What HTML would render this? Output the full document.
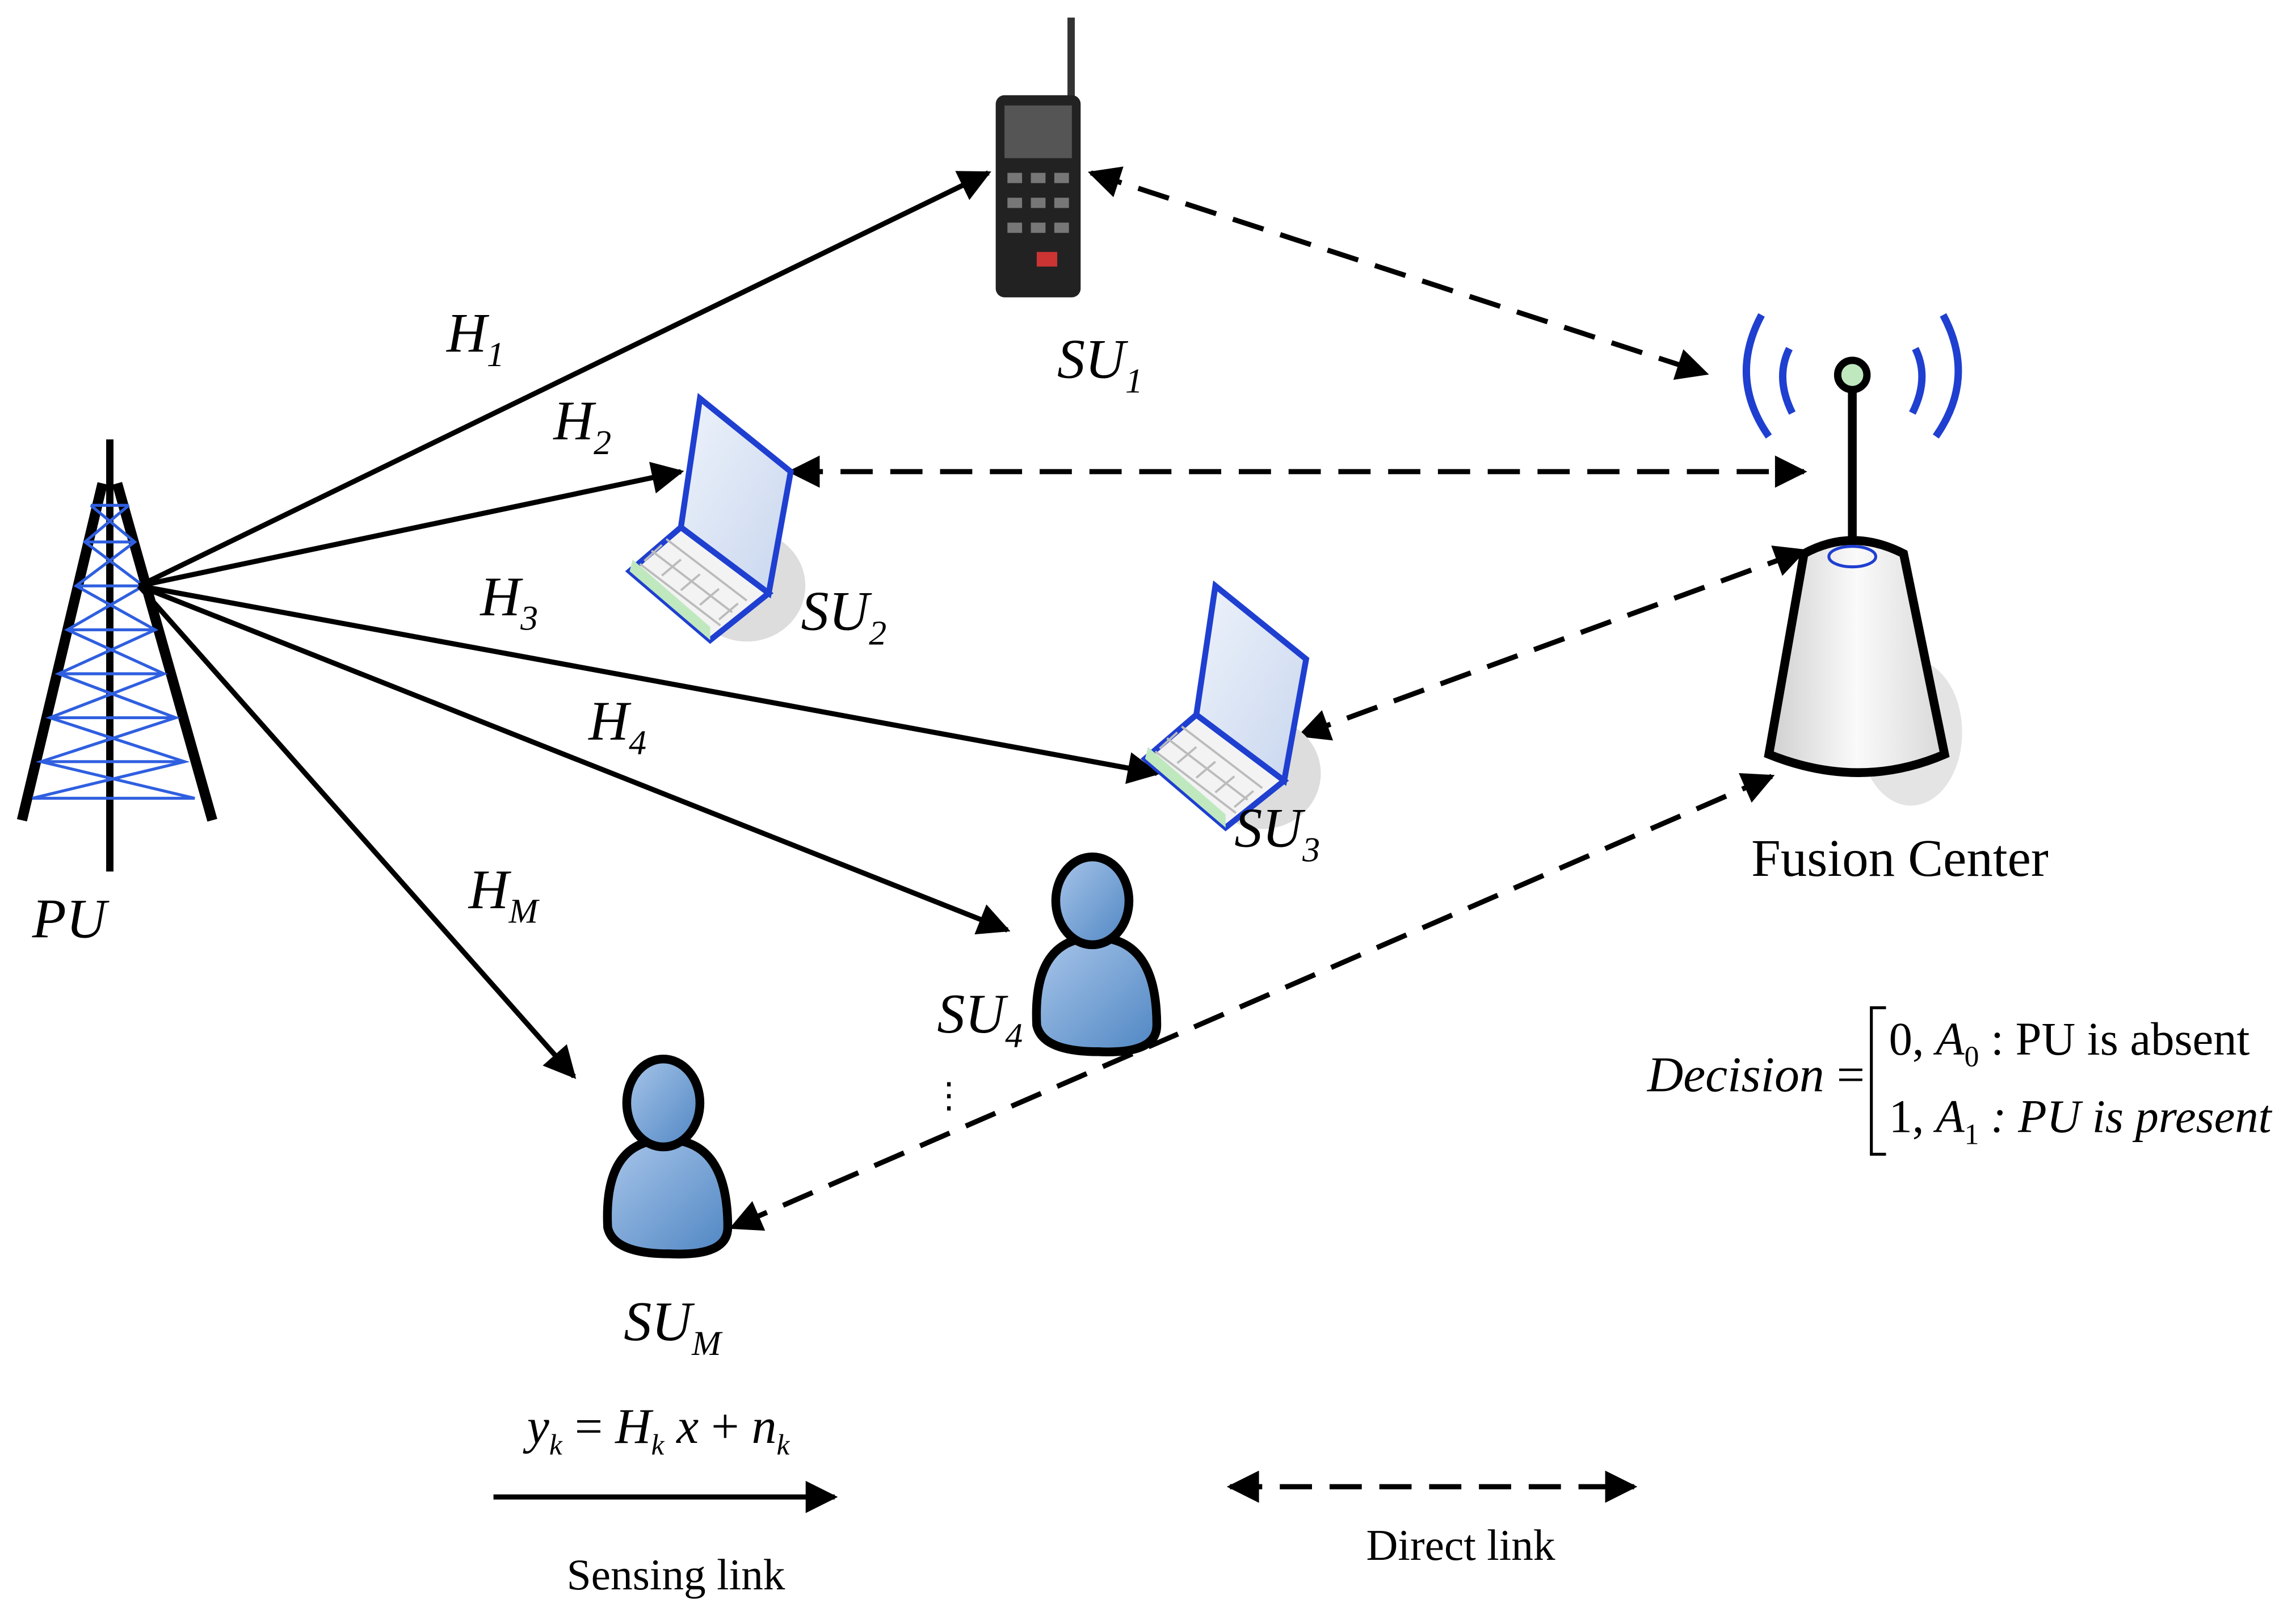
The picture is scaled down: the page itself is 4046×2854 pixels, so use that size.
<!DOCTYPE html>
<html><head><style>html,body{margin:0;padding:0;background:#fff}svg{display:block}</style></head><body>
<svg width="4046" height="2854" viewBox="0 0 1568 1106" preserveAspectRatio="none" xmlns="http://www.w3.org/2000/svg" font-family="Liberation Serif, serif">
<defs>
<linearGradient id="bl" x1="0" y1="0" x2="1" y2="1"><stop offset="0" stop-color="#a9c6ea"/><stop offset="1" stop-color="#4f86c3"/></linearGradient>
<linearGradient id="sc" x1="0" y1="0" x2="1" y2="1"><stop offset="0" stop-color="#eef3fb"/><stop offset="1" stop-color="#c8d6ee"/></linearGradient>
<linearGradient id="fc" x1="0" x2="1"><stop offset="0" stop-color="#cfcfcf"/><stop offset=".5" stop-color="#fafafa"/><stop offset="1" stop-color="#d8d8d8"/></linearGradient>
<marker id="m" viewBox="0 0 10 10" refX="9" refY="5" markerWidth="26" markerHeight="22" markerUnits="userSpaceOnUse" orient="auto-start-reverse"><path d="M0,0L10,5L0,10z"/></marker>
</defs>
<g stroke="#000" fill="none">
<line x1="75" y1="300" x2="75" y2="595" stroke-width="5"/>
<path d="M70,330 L15,560 M80,330 L145,560" stroke-width="7"/>
<g stroke="#2f5fe0" stroke-width="2">
<path d="M62,345 L88,345 M58,370 L92,370 M52,400 L98,400 M46,430 L106,430 M40,460 L112,460 M34,490 L120,490 M28,520 L126,520 M22,545 L133,545"/>
<path d="M62,345 L92,370 L52,400 L106,430 L40,460 L120,490 L28,520 L133,545 M88,345 L58,370 L98,400 L46,430 L112,460 L34,490 L126,520 L22,545"/>
</g>
</g>
<text x="22" y="640" font-size="38" font-style="italic">PU</text>
<g stroke="#000" stroke-width="3.5" marker-end="url(#m)">
<line x1="95" y1="400" x2="675" y2="118"/>
<line x1="95" y1="400" x2="465" y2="322"/>
<line x1="95" y1="400" x2="790" y2="528"/>
<line x1="95" y1="400" x2="688" y2="635"/>
<line x1="95" y1="400" x2="392" y2="735"/>
</g>
<g stroke="#000" stroke-width="3.5" stroke-dasharray="22,12" marker-end="url(#m)" marker-start="url(#m)">
<line x1="745" y1="118" x2="1165" y2="255"/>
<line x1="540" y1="322" x2="1232" y2="322"/>
<line x1="888" y1="502" x2="1232" y2="376"/>
<line x1="1210" y1="530" x2="500" y2="838"/>
</g>
<rect x="729" y="12" width="5" height="60" fill="#333"/>
<rect x="680" y="65" width="58" height="138" rx="6" fill="#222"/>
<rect x="686" y="72" width="46" height="36" fill="#555"/>
<g fill="#777"><rect x="688" y="118" width="10" height="7"/><rect x="704" y="118" width="10" height="7"/><rect x="720" y="118" width="10" height="7"/><rect x="688" y="135" width="10" height="7"/><rect x="704" y="135" width="10" height="7"/><rect x="720" y="135" width="10" height="7"/><rect x="688" y="152" width="10" height="7"/><rect x="704" y="152" width="10" height="7"/><rect x="720" y="152" width="10" height="7"/></g>
<rect x="708" y="172" width="14" height="10" fill="#c33"/>
<g id="lap">
<ellipse cx="510" cy="400" rx="40" ry="38" fill="#ddd"/>
<path d="M478,272 L540,322 L525,405 L465,360 z" fill="url(#sc)" stroke="#1f3fd0" stroke-width="4"/>
<path d="M465,360 L525,405 L485,437 L430,390 z" fill="#f3f3f3" stroke="#1f3fd0" stroke-width="4"/>
<g stroke="#bbb" stroke-width="1.5"><path d="M455,368 L510,410 M445,376 L500,418 M437,385 L492,427 M452,372 L440,383 M465,382 L452,393 M478,392 L465,403 M491,402 L478,413 M504,412 L491,423"/></g>
<path d="M430,390 L485,437 L485,428 L432,382" fill="#bfe8bf"/>
</g>
<use href="#lap" transform="translate(352,128)"/>
<g id="per" stroke="#000" stroke-width="6">
<path d="M708,700 Q705,640 748,640 Q790,640 790,700 Q790,720 750,718 Q712,718 708,700z" fill="url(#bl)"/>
<ellipse cx="746" cy="615" rx="25" ry="30" fill="url(#bl)"/>
</g>
<use href="#per" transform="translate(-293,138)"/>
<ellipse cx="1305" cy="500" rx="35" ry="50" fill="#e4e4e4"/>
<line x1="1265" y1="258" x2="1265" y2="372" stroke="#000" stroke-width="6"/>
<path d="M1232,378 Q1265,360 1300,378 L1328,515 Q1270,540 1208,515 z" fill="url(#fc)" stroke="#000" stroke-width="6"/>
<ellipse cx="1265" cy="380" rx="16" ry="7" fill="none" stroke="#1f3fd0" stroke-width="2"/>
<circle cx="1265" cy="256" r="10" fill="#bfe8bf" stroke="#000" stroke-width="5"/>
<g fill="none" stroke="#1f3fd0" stroke-width="5">
<path d="M1222,238 Q1212,258 1224,282 M1308,238 Q1318,258 1306,282"/>
<path d="M1203,215 Q1180,258 1208,298 M1327,215 Q1350,258 1322,298"/>
</g>
<g font-size="38" font-style="italic">
<text x="305" y="240">H<tspan font-size="24" dy="10">1</tspan></text>
<text x="378" y="300">H<tspan font-size="24" dy="10">2</tspan></text>
<text x="328" y="420">H<tspan font-size="24" dy="10">3</tspan></text>
<text x="402" y="505">H<tspan font-size="24" dy="10">4</tspan></text>
<text x="320" y="620">H<tspan font-size="24" dy="10">M</tspan></text>
<text x="722" y="258">SU<tspan font-size="24" dy="10">1</tspan></text>
<text x="547" y="430">SU<tspan font-size="24" dy="10">2</tspan></text>
<text x="843" y="578">SU<tspan font-size="24" dy="10">3</tspan></text>
<text x="640" y="705">SU<tspan font-size="24" dy="10">4</tspan></text>
<text x="426" y="915">SU<tspan font-size="24" dy="10">M</tspan></text>
<text x="360" y="985" font-size="34">y<tspan font-size="20" dy="8">k</tspan><tspan dy="-8" font-style="normal">  =  </tspan>H<tspan font-size="20" dy="8">k</tspan><tspan dy="-8"> x </tspan><tspan font-style="normal">+</tspan> n<tspan font-size="20" dy="8">k</tspan></text>
<text x="1125" y="745" font-size="34">Decision <tspan font-style="normal">=</tspan></text>
</g>
<text x="1196" y="598" font-size="36">Fusion Center</text>
<path d="M1288,688 L1278,688 L1278,788 L1288,788" fill="none" stroke="#000" stroke-width="2"/>
<text x="1290" y="720" font-size="32">0, <tspan font-style="italic">A</tspan><tspan font-size="20" dy="8">0</tspan><tspan dy="-8"> : PU is absent</tspan></text>
<text x="1290" y="773" font-size="32">1, <tspan font-style="italic">A</tspan><tspan font-size="20" dy="8">1</tspan><tspan dy="-8" font-style="italic"> : PU is present</tspan></text>
<text x="636" y="756" font-size="24">⋮</text>
<line x1="337" y1="1022" x2="570" y2="1022" stroke="#000" stroke-width="3.5" marker-end="url(#m)"/>
<line x1="840" y1="1015" x2="1116" y2="1015" stroke="#000" stroke-width="3.5" stroke-dasharray="22,12" marker-end="url(#m)" marker-start="url(#m)"/>
<text x="387" y="1085" font-size="30">Sensing link</text>
<text x="933" y="1065" font-size="30">Direct link</text>
</svg>
</body></html>
